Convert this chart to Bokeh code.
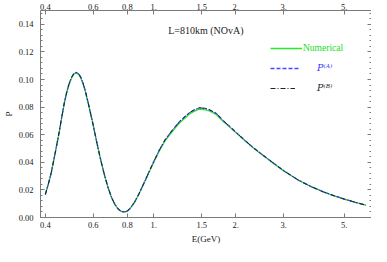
from bokeh.plotting import figure
from bokeh.models import (LogAxis, LinearAxis, FixedTicker, Legend, LegendItem,
                          Label, NumeralTickFormatter, CustomJSTickFormatter)
from bokeh.embed import file_html
from bokeh.resources import INLINE

# ---- data ----
energy = [0.40, 0.41, 0.42, 0.43, 0.44, 0.45, 0.46, 0.47, 0.48, 0.49, 0.50,
          0.51, 0.52, 0.53, 0.54, 0.55, 0.56, 0.58, 0.60, 0.62, 0.64, 0.66,
          0.68, 0.70, 0.72, 0.74, 0.76, 0.78, 0.80, 0.82, 0.85, 0.88, 0.92,
          0.96, 1.00, 1.05, 1.10, 1.15, 1.20, 1.25, 1.30, 1.35, 1.40, 1.47,
          1.55, 1.60, 1.70, 1.80, 1.90, 2.00, 2.15, 2.30, 2.50, 2.70, 3.00,
          3.40, 3.80, 4.20, 4.60, 5.00, 5.50, 6.00]
p_numerical = [0.0167, 0.0240, 0.0320, 0.0420, 0.0520, 0.0620, 0.0730,
               0.0830, 0.0910, 0.0970, 0.1013, 0.1040, 0.1046, 0.1037,
               0.1010, 0.0970, 0.0920, 0.0795, 0.0665, 0.0530, 0.0410,
               0.0305, 0.0215, 0.0145, 0.0095, 0.0062, 0.0044, 0.0040,
               0.0047, 0.0066, 0.0110, 0.0165, 0.0245, 0.0325, 0.0400,
               0.0485, 0.0555, 0.0605, 0.0650, 0.0690, 0.0720, 0.0748,
               0.0767, 0.0785, 0.0780, 0.0772, 0.0745, 0.0695, 0.0655,
               0.0615, 0.0560, 0.0510, 0.0455, 0.0405, 0.0338, 0.0270,
               0.0222, 0.0185, 0.0157, 0.0134, 0.0110, 0.0089]
p_a = [0.0167, 0.0240, 0.0320, 0.0420, 0.0520, 0.0622, 0.0733,
       0.0834, 0.0914, 0.0975, 0.1018, 0.1045, 0.1051, 0.1042,
       0.1015, 0.0974, 0.0923, 0.0797, 0.0666, 0.0531, 0.0410,
       0.0305, 0.0215, 0.0145, 0.0095, 0.0062, 0.0044, 0.0040,
       0.0047, 0.0067, 0.0111, 0.0167, 0.0248, 0.0329, 0.0405,
       0.0491, 0.0562, 0.0613, 0.0659, 0.0699, 0.0730, 0.0758,
       0.0777, 0.0795, 0.0790, 0.0781, 0.0753, 0.0701, 0.0660,
       0.0619, 0.0563, 0.0512, 0.0456, 0.0406, 0.0339, 0.0270,
       0.0222, 0.0185, 0.0157, 0.0134, 0.0110, 0.0089]
p_b = [0.0167, 0.0240, 0.0320, 0.0420, 0.0520, 0.0622, 0.0733,
       0.0834, 0.0914, 0.0975, 0.1018, 0.1045, 0.1051, 0.1042,
       0.1015, 0.0974, 0.0923, 0.0797, 0.0666, 0.0531, 0.0410,
       0.0305, 0.0215, 0.0145, 0.0095, 0.0062, 0.0044, 0.0040,
       0.0047, 0.0067, 0.0111, 0.0167, 0.0248, 0.0329, 0.0405,
       0.0491, 0.0562, 0.0613, 0.0659, 0.0699, 0.0730, 0.0758,
       0.0777, 0.0795, 0.0790, 0.0781, 0.0753, 0.0701, 0.0660,
       0.0619, 0.0563, 0.0512, 0.0456, 0.0406, 0.0339, 0.0270,
       0.0222, 0.0185, 0.0157, 0.0134, 0.0110, 0.0089]

x_ticks = [0.4, 0.6, 0.8, 1.0, 1.5, 2.0, 3.0, 5.0]
x_tick_labels = ["0.4", "0.6", "0.8", "1.", "1.5", "2.", "3.", "5."]
y_ticks = [0.0, 0.02, 0.04, 0.06, 0.08, 0.10, 0.12, 0.14]
series_labels = ["Numerical", "P\u207d\u1d2c\u207e", "P\u207d\u1d2e\u207e"]
annotation_text = "L=810km (NOvA)"

FONT = "Liberation Serif"
AX = "#7a7a7a"

p = figure(width=371, height=246, x_axis_type="log",
           x_range=(0.384, 6.3), y_range=(0, 0.15),
           output_backend="svg", toolbar_location=None,
           min_border_left=31, min_border_right=0, min_border_top=2,
           min_border_bottom=0, min_border=0)
p.grid.visible = False
p.outline_line_color = None

x_ticker = FixedTicker(ticks=x_ticks, minor_ticks=[])
y_minor = [round(i * 0.004, 4) for i in range(0, 38)]
y_ticker = FixedTicker(ticks=y_ticks, minor_ticks=y_minor)
overrides = {t: s for t, s in zip(x_ticks, x_tick_labels)}


def style(ax):
    ax.major_tick_in = 4
    ax.major_tick_out = 0
    ax.minor_tick_in = 2
    ax.minor_tick_out = 0
    ax.axis_line_color = AX
    ax.major_tick_line_color = AX
    ax.minor_tick_line_color = AX
    ax.major_label_text_font = FONT
    ax.major_label_text_font_size = "8.5px"
    ax.major_label_text_color = "#222222"
    ax.axis_label_text_font = FONT
    ax.axis_label_text_font_size = "9px"
    ax.axis_label_text_font_style = "normal"
    ax.axis_label_text_color = "#222222"


bottom = p.below[0]
bottom.ticker = x_ticker
bottom.major_label_overrides = overrides
bottom.axis_label = "E(GeV)"
bottom.major_label_standoff = 4
bottom.axis_label_standoff = 3
style(bottom)

left = p.left[0]
left.ticker = y_ticker
left.formatter = NumeralTickFormatter(format="0.00")
left.axis_label = "P"
left.major_label_standoff = 7
left.axis_label_standoff = 2
style(left)

top = LogAxis(ticker=x_ticker, major_label_overrides=overrides,
              major_label_standoff=1)
style(top)
p.add_layout(top, "above")

right = LinearAxis(ticker=y_ticker, major_label_standoff=0,
                   formatter=CustomJSTickFormatter(code="return ''"))
style(right)
p.add_layout(right, "right")

r_num = p.line(energy, p_numerical, line_color="#22ee22", line_width=1.3)
r_a = p.line(energy, p_a, line_color="#4a4aff", line_width=1.3, line_dash="4 2")
r_b = p.line(energy, p_b, line_color="#222222", line_width=1.0, line_dash="5 2 1 2")


def add_legend(label, renderer, color, loc, standoff, width, italic, font):
    lg = Legend(items=[LegendItem(label=label, renderers=[renderer])],
                location=loc, label_text_color=color, label_text_font=font,
                label_text_font_size="9.5px", label_standoff=standoff,
                glyph_width=width, glyph_height=10, label_height=10,
                padding=0, margin=0, spacing=0, border_line_alpha=0,
                background_fill_alpha=0,
                label_text_font_style="italic" if italic else "normal")
    p.add_layout(lg, "center")


add_legend(series_labels[0], r_num, "#22dd22", (230, 164), 1, 32, False, FONT)
add_legend(series_labels[1], r_a, "#3333ff", (230, 144), 18, 29, True, "DejaVu Serif")
add_legend(series_labels[2], r_b, "#222222", (230, 124), 22, 25, True, "DejaVu Serif")

p.add_layout(Label(x=1.13, y=0.1355, text=annotation_text,
                   text_font=FONT, text_font_size="10px",
                   text_color="#222222", text_baseline="middle"))

open("out.html", "w").write(file_html(p, INLINE))
